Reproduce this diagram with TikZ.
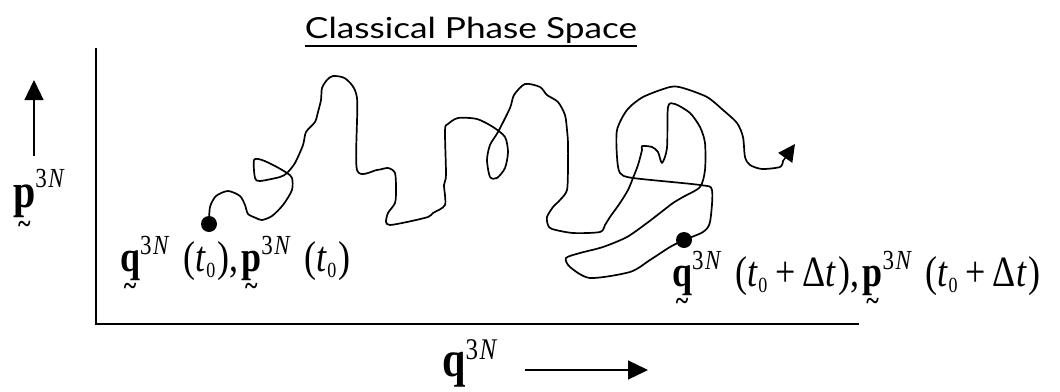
\documentclass[tikz,border=0pt]{standalone}
\usepackage{fontspec}
\setmainfont{Liberation Serif}
\newfontfamily\titlefont{Lato}
\usetikzlibrary{arrows.meta}
\newcommand\tvec[1]{\setbox0=\hbox{\textbf{#1}}\leavevmode\rlap{\hbox to\wd0{\hss\raisebox{-0.56em}[0pt][0pt]{\fontsize{24}{24}\selectfont\textbf{\textasciitilde}}\hss}}\box0}
\newcommand\supsN[2]{\raisebox{#1}{\fontsize{#2}{#2}\selectfont 3\kern1.5pt\textit{N}}}
\newcommand\subz{\raisebox{-5pt}{\fontsize{18}{18}\selectfont 0}}
\newcommand\tz{\textit{t}\subz}
\newcommand\tzd{\textit{t}\subz\hspace{8pt}+\hspace{7pt}Δ\textit{t}}
\tikzset{
  lbl/.style={inner sep=0pt, anchor=base west},
  dotnode/.style={circle, fill=black, inner sep=0pt, minimum size=16pt},
  axis/.style={line width=1.6pt},
  traj/.style={line width=1.7pt, line join=round, line cap=round},
  bigarrow/.style={line width=1.2pt, -{Triangle[length=20pt,width=19pt]}}
}
\begin{document}
\begin{tikzpicture}[x=1pt,y=-1pt]
\useasboundingbox (0,0) rectangle (1060,391);
% title
\node[lbl, anchor=base] (title) at (471,38) {\resizebox{332pt}{\height}{\titlefont\fontsize{29}{29}\selectfont Classical Phase Space}};
\coordinate (ul1) at (305,46);
\coordinate (ul2) at (637,46);
\draw[line width=1.8pt] (ul1) -- (ul2);
% axes
\coordinate (ytop) at (96,48);
\coordinate (origin) at (96,324);
\coordinate (xend) at (859,324);
\draw[axis] (ytop) -- (origin) -- (xend);
% axis direction arrows
\coordinate (ua0) at (34,156);
\coordinate (ua1) at (34,80);
\draw[bigarrow] (ua0) -- (ua1);
\coordinate (ra0) at (525,370);
\coordinate (ra1) at (648,370);
\draw[bigarrow] (ra0) -- (ra1);
% axis labels
\node[lbl] (plabel) at (13,207) {\scalebox{1}[1.2]{\fontsize{40}{40}\selectfont\tvec{p}\supsN{16pt}{23}}};
\node[lbl] (qlabel) at (442,376) {\scalebox{1}[1.2]{\fontsize{42}{42}\selectfont\textbf{q}\supsN{13.5pt}{25}}};
% dots
\node[dotnode] (dot0) at (209,224) {};
\node[dotnode] (dot1) at (684,240) {};
% point labels
\node[lbl] (lab0) at (120,271) {\scalebox{1}[1.2]{\fontsize{36}{36}\selectfont
  \tvec{q}\supsN{14pt}{23}\hspace{14pt}(\tz\hspace{2pt}),\hspace{3pt}\tvec{p}\supsN{14pt}{23}\hspace{14pt}(\tz\hspace{2pt})}};
\node[lbl] (lab1) at (672,286) {\scalebox{1}[1.2]{\fontsize{36}{36}\selectfont
  \tvec{q}\supsN{14pt}{23}\hspace{14pt}(\tzd\hspace{2pt}),\hspace{3pt}\tvec{p}\supsN{14pt}{23}\hspace{14pt}(\tzd\hspace{2pt})}};
% trajectory
\coordinate (tend) at (783,161);
\coordinate (ttip) at (795,144);
\draw[traj] plot[smooth, tension=0.45] coordinates {
 (dot0.center) (210,207) (216,196) (228,191) (240,196) (245,205) (248,214) (256,218) (262,220)
 (272,216) (283,205) (292,190) (292,178) (287,173) (275,166) (262,160) (254,160) (255,178)
 (260,181) (280,177) (287,173) (295,163) (303,145) (306,132) (315,122) (318,112) (321,100)
 (322,88) (327,80) (333,76) (346,79) (357,98) (357,170) (377,170) (388,168) (395,173)
 (396,190) (395,203) (388,213) (386,222) (390,225) (407,222) (428,217) (433,213) (445,205)
 (444,185) (446,175) (445,130) (448,124) (458,118) (477,119) (493,127) (505,137) (508,152)
 (505,168) (497,178) (490,177) (487,160) (490,145) (498,132) (510,108) (514,95) (525,84)
 (540,87) (547,95) (558,102) (565,115) (567,130) (568,143) (568,165) (567,190) (560,200)
 (553,207) (547,217) (548,225) (552,229) (573,233) (600,232) (605,225) (610,217) (620,203)
 (628,190) (633,178) (638,165) (642,150) (642,146) (652,147) (658,152) (662,163) (667,148)
 (668,107) (675,104) (690,113) (700,127) (705,143) (705,170) (700,187) (683,197) (673,203)
 (660,213) (647,223) (627,237) (603,247) (580,253) (566,258) (570,267) (590,278) (630,272)
 (650,260) (670,247) (dot1.center) (703,232) (710,222) (712,190) (700,185) (633,178)
 (620,173) (617,157) (617,130) (627,110) (643,97) (670,87) (683,88) (707,97) (723,110)
 (737,123) (743,137) (745,157) (750,165) (762,169) (780,167) (tend)};
\draw[line width=1.5pt, -{Triangle[length=17pt,width=17pt]}] (tend) -- (ttip);
\end{tikzpicture}
\end{document}
